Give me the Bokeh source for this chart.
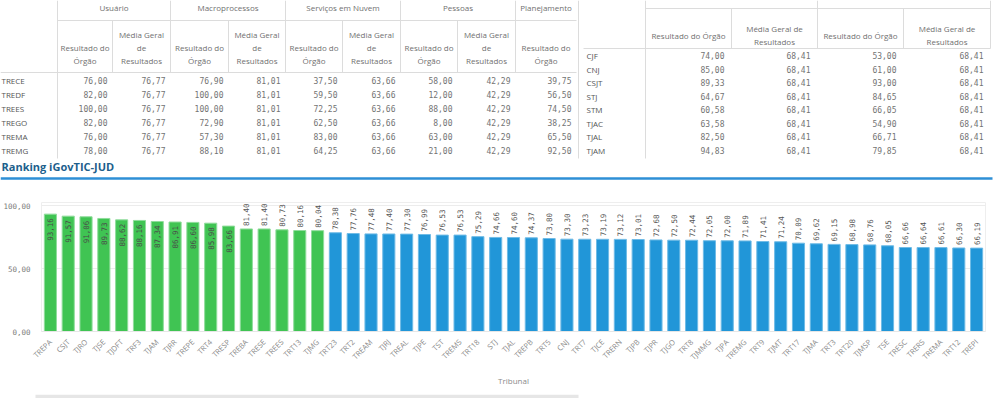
from math import pi
from bokeh.plotting import figure
from bokeh.models import ColumnDataSource, Range1d, FactorRange, FixedTicker
from bokeh.core.properties import value
from bokeh.embed import file_html
from bokeh.resources import INLINE

# ---------------- data ----------------
tribunais = ["TREPA", "CSJT", "TJRO", "TJSE", "TJDFT", "TRF3", "TJAM", "TJRR", "TREPE", "TRT4",
             "TRESP", "TREBA", "TRESE", "TREES", "TRT13", "TJMG", "TRT23", "TRT2", "TREAM", "TJRJ",
             "TREAL", "TJPE", "TST", "TREMS", "TRT18", "STJ", "TJAL", "TREPB", "TRT5", "CNJ",
             "TRT7", "TJCE", "TRERN", "TJPB", "TJPR", "TJGO", "TRT8", "TJMMG", "TJPA", "TREMG",
             "TRT9", "TJMT", "TRT17", "TJMA", "TRT3", "TRT20", "TJMSP", "TSE", "TRESC", "TRERS",
             "TREMA", "TRT12", "TREPI"]
indice = [93.16, 91.57, 91.06, 89.73, 88.62, 88.16, 87.34, 86.91, 86.60, 85.98,
          83.66, 81.40, 81.40, 80.73, 80.16, 80.04, 78.38, 77.76, 77.48, 77.40,
          77.30, 76.99, 76.53, 76.53, 75.29, 74.66, 74.60, 74.37, 73.80, 73.30,
          73.23, 73.19, 73.12, 73.01, 72.68, 72.50, 72.44, 72.05, 72.00, 71.89,
          71.41, 71.24, 70.09, 69.62, 69.15, 68.98, 68.76, 68.05, 66.66, 66.64,
          66.61, 66.30, 66.19]

# left table
left_rows = ["TRECE", "TREDF", "TREES", "TREGO", "TREMA", "TREMG"]
usuario_res = [76.00, 82.00, 100.00, 82.00, 76.00, 78.00]
usuario_media = [76.77, 76.77, 76.77, 76.77, 76.77, 76.77]
macro_res = [76.90, 100.00, 100.00, 72.90, 57.30, 88.10]
macro_media = [81.01, 81.01, 81.01, 81.01, 81.01, 81.01]
nuvem_res = [37.50, 59.50, 72.25, 62.50, 83.00, 64.25]
nuvem_media = [63.66, 63.66, 63.66, 63.66, 63.66, 63.66]
pessoas_res = [58.00, 12.00, 88.00, 8.00, 63.00, 21.00]
pessoas_media = [42.29, 42.29, 42.29, 42.29, 42.29, 42.29]
planej_res = [39.75, 56.50, 74.50, 38.25, 65.50, 92.50]
left_groups = ["Usuário", "Macroprocessos", "Serviços em Nuvem", "Pessoas", "Planejamento"]

# right table
right_rows = ["CJF", "CNJ", "CSJT", "STJ", "STM", "TJAC", "TJAL", "TJAM"]
r_res1 = [74.00, 85.00, 89.33, 64.67, 60.58, 63.58, 82.50, 94.83]
r_media1 = [68.41, 68.41, 68.41, 68.41, 68.41, 68.41, 68.41, 68.41]
r_res2 = [53.00, 61.00, 93.00, 84.65, 66.05, 54.90, 66.71, 79.85]
r_media2 = [68.41, 68.41, 68.41, 68.41, 68.41, 68.41, 68.41, 68.41]

titulo = "Ranking iGovTIC-JUD"
eixo_x = "Tribunal"


def fmt(v):
    return f"{v:.2f}".replace(".", ",")


SANS = value("Open Sans")
MONO = value("DejaVu Sans Mono")
HDR = "#707070"
NUM = "#737373"
LINE = "#dcdcdc"

# ---------------- top: tables + title ----------------
top = figure(width=1000, height=184, x_range=Range1d(0, 1000), y_range=Range1d(184, 0),
             x_axis_type=None, y_axis_type=None,
             toolbar_location=None, output_backend="svg", min_border=0)
top.grid.visible = False
top.outline_line_color = None

seg = dict(x0=[], y0=[], x1=[], y1=[])


def add_seg(a, b, c, d):
    seg["x0"].append(a); seg["y0"].append(b); seg["x1"].append(c); seg["y1"].append(d)


hx, hy, ht = [], [], []
nx, ny, nt = [], [], []
lx, ly, lt = [], [], []

# ---- left table
L_EDGES = [0, 57, 112, 170, 228, 285, 342, 400, 457, 515, 576]
L_HDR_BOTTOM = 72
L_ROW0, L_ROWH = 80, 14
left_cols = [usuario_res, usuario_media, macro_res, macro_media, nuvem_res, nuvem_media,
             pessoas_res, pessoas_media, planej_res]
col_kind = ["res", "media", "res", "media", "res", "media", "res", "media", "res"]
group_span = [(1, 2), (3, 4), (5, 6), (7, 8), (9, 9)]
for g, (a, b) in zip(left_groups, group_span):
    xa, xb = L_EDGES[a], L_EDGES[b + 1]
    hx.append((xa + xb) / 2); hy.append(7); ht.append(g)
    add_seg(xa, 0, xa, L_HDR_BOTTOM)
add_seg(L_EDGES[1], 20, L_EDGES[-1], 20)
add_seg(0, L_HDR_BOTTOM, L_EDGES[-1], L_HDR_BOTTOM)
add_seg(L_EDGES[1], L_HDR_BOTTOM, L_EDGES[1], 158)
add_seg(L_EDGES[-1] + 2, 0, L_EDGES[-1] + 2, 158)
for j, (vals, kind) in enumerate(zip(left_cols, col_kind)):
    xa, xb = L_EDGES[j + 1], L_EDGES[j + 2]
    cx = (xa + xb) / 2
    if kind == "media":
        add_seg(xa, 20, xa, L_HDR_BOTTOM)
        for t, yy in zip(["Média Geral", "de", "Resultados"], [34, 47, 60]):
            hx.append(cx); hy.append(yy); ht.append(t)
    else:
        for t, yy in zip(["Resultado do", "Órgão"], [47, 60]):
            hx.append(cx); hy.append(yy); ht.append(t)
    for i, v in enumerate(vals):
        nx.append(xb - 5); ny.append(L_ROW0 + i * L_ROWH); nt.append(fmt(v))
for i, r in enumerate(left_rows):
    lx.append(1); ly.append(L_ROW0 + i * L_ROWH); lt.append(r)

# ---- right table
R_EDGES = [583, 645, 731, 817, 903, 990]
R_HDR_BOTTOM = 48
R_ROW0, R_ROWH = 55, 13.5
right_cols = [r_res1, r_media1, r_res2, r_media2]
add_seg(R_EDGES[1], 8, R_EDGES[-1], 8)
add_seg(R_EDGES[0], R_HDR_BOTTOM, R_EDGES[-1], R_HDR_BOTTOM)
add_seg(R_EDGES[1], 0, R_EDGES[1], 158)
add_seg(R_EDGES[3], 0, R_EDGES[3], R_HDR_BOTTOM)
add_seg(R_EDGES[-1], 0, R_EDGES[-1], R_HDR_BOTTOM)
for j, vals in enumerate(right_cols):
    xa, xb = R_EDGES[j + 1], R_EDGES[j + 2]
    cx = (xa + xb) / 2
    if j % 2 == 1:
        add_seg(xa, 8, xa, R_HDR_BOTTOM)
        for t, yy in zip(["Média Geral de", "Resultados"], [28, 41]):
            hx.append(cx); hy.append(yy); ht.append(t)
    else:
        hx.append(cx); hy.append(35); ht.append("Resultado do Órgão")
    for i, v in enumerate(vals):
        nx.append(xb - 7); ny.append(R_ROW0 + i * R_ROWH); nt.append(fmt(v))
for i, r in enumerate(right_rows):
    lx.append(R_EDGES[0] + 3); ly.append(R_ROW0 + i * R_ROWH); lt.append(r)

top.segment(x0="x0", y0="y0", x1="x1", y1="y1", source=ColumnDataSource(seg),
            line_color=LINE, line_width=1)
top.text(x="x", y="y", text="t", source=ColumnDataSource(dict(x=hx, y=hy, t=ht)),
         text_font=SANS, text_font_size="8px", text_color=HDR,
         text_align="center", text_baseline="middle")
top.text(x="x", y="y", text="t", source=ColumnDataSource(dict(x=nx, y=ny, t=nt)),
         text_font=MONO, text_font_size="8px", text_color=NUM,
         text_align="right", text_baseline="middle")
top.text(x="x", y="y", text="t", source=ColumnDataSource(dict(x=lx, y=ly, t=lt)),
         text_font=SANS, text_font_size="8px", text_color="#555555",
         text_align="left", text_baseline="middle")

top.text(x=[1], y=[166], text=[titulo], text_font=SANS, text_font_size="11px",
         text_font_style="bold", text_color="#1d5f8c", text_align="left", text_baseline="middle")
top.segment(x0=[0], y0=[178], x1=[992], y1=[178], line_color="#2e8fd6", line_width=2.5)

# ---------------- bar chart ----------------
cores = ["#40c453" if v >= 80 else "#2196d8" for v in indice]
bordas = ["#8fdc9b" if v >= 80 else "#6fbbe6" for v in indice]
rotulos = [fmt(v) for v in indice]
src = ColumnDataSource(dict(trib=tribunais, val=indice, cor=cores, borda=bordas, rot=rotulos))

dentro = [i for i, v in enumerate(indice) if v >= 83]
fora = [i for i, v in enumerate(indice) if v < 83]
src_in = ColumnDataSource(dict(trib=[tribunais[i] for i in dentro], val=[indice[i] for i in dentro],
                               rot=[rotulos[i] for i in dentro]))
src_out = ColumnDataSource(dict(trib=[tribunais[i] for i in fora], val=[indice[i] for i in fora],
                                rot=[rotulos[i] for i in fora]))

p = figure(width=1000, height=206, x_range=FactorRange(factors=tribunais, range_padding=0),
           y_range=Range1d(0, 102.4), toolbar_location=None, output_backend="svg",
           min_border_left=35, min_border_right=15, min_border_top=18, min_border_bottom=59)
p.vbar(x="trib", top="val", width=0.68, source=src, fill_color="cor", line_color="borda",
       line_width=1)
p.text(x="trib", y="val", text="rot", source=src_in, angle=pi / 2, y_offset=4,
       text_font=MONO, text_font_size="7.5px", text_color="#4a4a4a",
       text_align="right", text_baseline="middle")
p.text(x="trib", y="val", text="rot", source=src_out, angle=pi / 2, y_offset=-3,
       text_font=MONO, text_font_size="7.5px", text_color="#555555",
       text_align="left", text_baseline="middle")

p.outline_line_color = "#eeeeee"
p.xgrid.grid_line_color = None
p.ygrid.grid_line_color = "#ececec"
p.yaxis.ticker = FixedTicker(ticks=[0, 50, 100])
p.yaxis.major_label_overrides = {0: "0,00", 50: "50,00", 100: "100,00"}
p.yaxis.axis_line_color = None
p.yaxis.major_tick_line_color = None
p.yaxis.minor_tick_line_color = None
p.yaxis.major_label_text_font = "DejaVu Sans Mono"
p.yaxis.major_label_text_font_size = "7.5px"
p.yaxis.major_label_text_color = "#7a7a7a"
p.yaxis.major_label_standoff = 5

p.xaxis.axis_label = eixo_x
p.xaxis.axis_label_text_font = "Open Sans"
p.xaxis.axis_label_text_font_style = "normal"
p.xaxis.axis_label_text_font_size = "8px"
p.xaxis.axis_label_text_color = "#8a8a8a"
p.xaxis.axis_label_standoff = 7
p.xaxis.major_label_orientation = pi / 4
p.xaxis.major_label_text_font = "Open Sans"
p.xaxis.major_label_text_font_size = "7.5px"
p.xaxis.major_label_text_color = "#8a8a8a"
p.xaxis.major_label_standoff = 3
p.xaxis.axis_line_color = "#e6e6e6"
p.xaxis.major_tick_line_color = None
p.xaxis.minor_tick_line_color = None

# ---------------- horizontal scroll strip ----------------
strip = figure(width=1000, height=8, x_range=Range1d(0, 1000), y_range=Range1d(8, 0),
               x_axis_type=None, y_axis_type=None,
               toolbar_location=None, output_backend="svg", min_border=0)
strip.grid.visible = False
strip.outline_line_color = None
strip.quad(left=[35], right=[578], top=[0], bottom=[6], fill_color="#e6e6e6", line_color=None)

open("out.html", "w").write(file_html([top, p, strip], INLINE))
